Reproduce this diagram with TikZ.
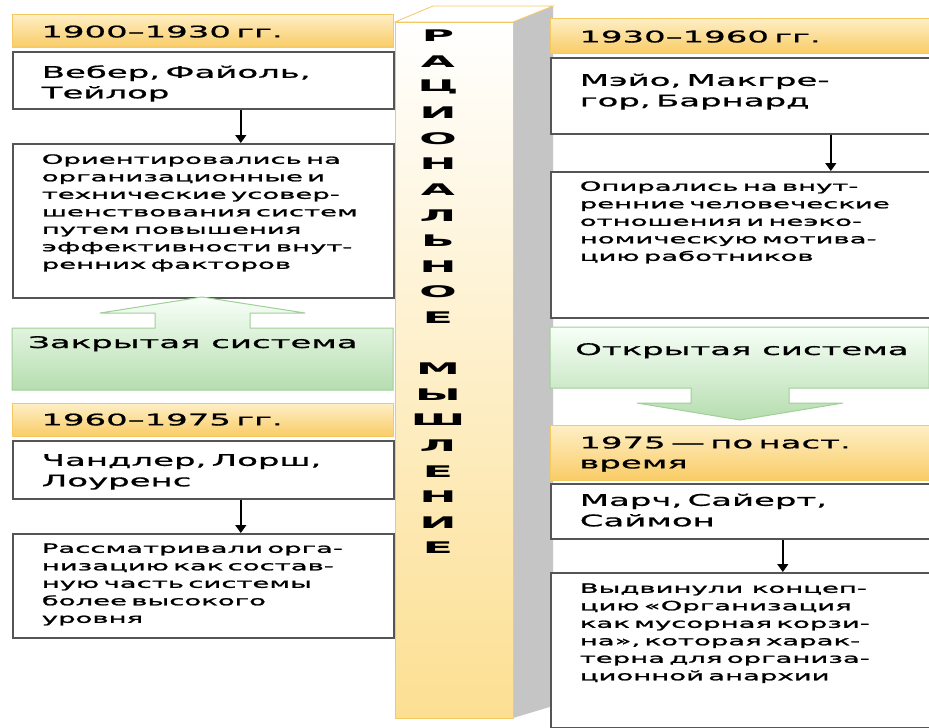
\documentclass[tikz,border=0pt]{standalone}
\usepackage{fontspec}
\setmainfont{DejaVu Sans}[FakeStretch=2.12,FakeBold=1]
\newfontfamily\descfont{DejaVu Sans}[FakeStretch=2.15,FakeBold=1.5]
\newfontfamily\pillarfont{DejaVu Sans}[FakeStretch=2.75]
\usetikzlibrary{arrows.meta}
\definecolor{cpeach}{HTML}{F9CC66}
\definecolor{clight}{HTML}{FEEFC6}
\definecolor{cedge}{HTML}{F5C862}
\definecolor{cframe}{HTML}{555555}
\definecolor{cgreen}{HTML}{B6DDAF}
\definecolor{cgline}{HTML}{9FD098}
\definecolor{cside}{HTML}{C5C5C5}
\definecolor{cpillar}{HTML}{FCDF92}

\begin{document}
\begin{tikzpicture}[x=1pt,y=-1pt,
  period/.style={draw=cedge,line width=0.8pt,top color=clight,bottom color=cpeach,
    anchor=north west,align=left,inner xsep=29pt,inner ysep=0pt,
    font=\fontsize{16}{20}\selectfont},
  names/.style={draw=cframe,line width=1.6pt,fill=white,anchor=north west,
    align=left,inner xsep=29pt,inner ysep=0pt,font=\fontsize{16}{20.5}\selectfont},
  descr/.style={names,font=\descfont\fontsize{12.8}{17.5}\selectfont},
  sysarrow/.style={draw=cgline,line width=1pt,top color=green!3!white,bottom color=cgreen},
  systxt/.style={anchor=base west,inner sep=0pt,font=\fontsize{16}{20}\selectfont},
  letter/.style={font=\pillarfont\bfseries\fontsize{16}{16}\selectfont,inner sep=0pt},
  arr/.style={-{Triangle[width=11pt,length=8pt]},line width=1.4pt}]
  \path[use as bounding box,fill=white] (0,0) rectangle (929,728);

  % central pillar
  \fill[cside] (513,22) -- (553,6) -- (553,706) -- (513,718) -- cycle;
  \draw[cedge,line width=0.8pt,fill=white] (395,22) -- (433,6) -- (553,6) -- (513,22) -- cycle;
  \draw[cedge,line width=1pt,top color=white,bottom color=cpillar] (395,22) rectangle (513,718);
  \foreach \ch [count=\i from 0] in {Р,А,Ц,И,О,Н,А,Л,Ь,Н,О,Е}
    \node[letter] (w\i) at (438,36+25.6*\i) {\ch};
  \foreach \ch [count=\i from 13] in {М,Ы,Ш,Л,Е,Н,И,Е}
    \node[letter] (w\i) at (438,36+25.6*\i) {\ch};

  % left column
  \node[period,text width=323pt,text height=23pt,text depth=10pt] (p1) at (12,14) {1900–1930 гг.};
  \node[names,text width=323pt,text height=26pt,text depth=31pt] (n1) at (12,51) {Вебер, Файоль,\\Тейлор};
  \node[descr,text width=323pt,text height=20pt,text depth=134pt] (d1) at (12,143)
    {Ориентировались на\\организационные и\\технические усовер-\\шенствования систем\\путем повышения\\эффективности внут-\\ренних факторов};
  \draw[arr] ([xshift=37.5pt]n1.south) -- ([xshift=37.5pt]d1.north);

  \draw[sysarrow] (12,328) -- (155,328) -- (155,313) -- (100,313) -- (202,297) -- (305,313)
    -- (250,313) -- (250,328) -- (393,328) -- (393,390) -- (12,390) -- cycle;
  \node[systxt] (closed) at (28,348) {Закрытая система};

  \node[period,text width=323pt,text height=22pt,text depth=11pt] (p3) at (12,403) {1960–1975 гг.};
  \node[names,text width=323pt,text height=25pt,text depth=33pt] (n3) at (12,440) {Чандлер, Лорш,\\Лоуренс};
  \node[descr,text width=323pt,text height=19pt,text depth=85pt] (d3) at (12,533)
    {Рассматривали орга-\\низацию как состав-\\ную часть системы\\более высокого\\уровня};
  \draw[arr] ([xshift=37.5pt]n3.south) -- ([xshift=37.5pt]d3.north);

  % right column
  \node[period,text width=321pt,text height=24pt,text depth=11pt] (p2) at (550,18) {1930–1960 гг.};
  \node[names,text width=321pt,text height=28pt,text depth=48pt] (n2) at (550,57) {Мэйо, Макгре-\\гор, Барнард};
  \node[descr,text width=321pt,text height=19pt,text depth=127pt] (d2) at (550,171)
    {Опирались на внут-\\ренние человеческие\\отношения и неэко-\\номическую мотива-\\цию работников};
  \draw[arr] ([xshift=90.5pt]n2.south) -- ([xshift=90.5pt]d2.north);

  \draw[sysarrow] (550,327) -- (929,327) -- (929,388) -- (789,388) -- (789,403) -- (843,403)
    -- (740,420) -- (637,403) -- (691,403) -- (691,388) -- (550,388) -- cycle;
  \node[systxt] (open) at (575,355) {Открытая система};

  \node[period,text width=321pt,text height=23pt,text depth=32pt] (p4) at (550,425) {1975 — по наст.\\время};
  \node[names,text width=321pt,text height=22pt,text depth=33pt] (n4) at (550,483) {Марч, Сайерт,\\Саймон};
  \node[descr,text width=321pt,text height=20pt,text depth=135pt] (d4) at (550,572)
    {Выдвинули~ концеп-\\цию «Организация\\как мусорная корзи-\\на», которая харак-\\терна для организа-\\ционной анархии};
  \draw[arr] ([xshift=42.5pt]n4.south) -- ([xshift=42.5pt]d4.north);
\end{tikzpicture}
\end{document}
